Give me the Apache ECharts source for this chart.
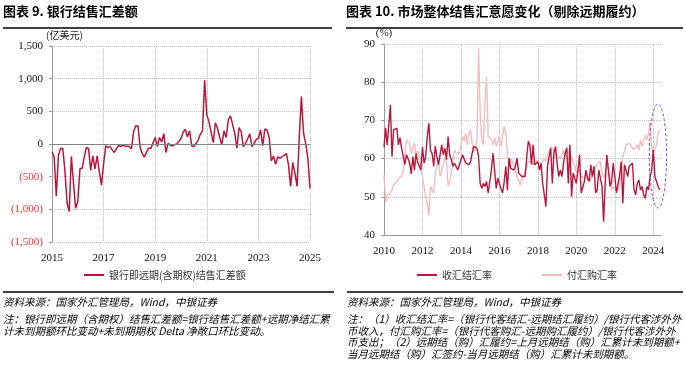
<!DOCTYPE html>
<html><head><meta charset="utf-8">
<script src="https://cdn.jsdelivr.net/npm/echarts@6/dist/echarts.min.js"></script>
<style>html,body{margin:0;padding:0;background:#fff}#c{width:686px;height:367px}</style>
</head><body><div id="c"></div>
<script>
// ---------- data ----------
const leftStartYear = 2015;          // monthly from 2015-01
const leftYearSpan = 10;
const leftSeriesName = '银行即远期(含期权)结售汇差额';
const leftNetFx = [
 -117,-200,-800,-170,-70,-66,-400,-900,-1035,-190,-600,-985,
 -880,-380,-372,-200,-50,-70,-400,-180,-380,-180,-420,-630,
 -300,-30,-50,-40,-90,-130,-70,-20,-40,-20,-30,-35,
 -40,-70,200,280,275,-50,-150,-200,-120,-60,-70,20,
 100,-40,100,30,160,-130,10,-15,-30,-10,0,40,
 85,180,225,110,200,-30,-40,10,60,150,200,980,
 450,340,180,20,325,240,100,-15,200,100,370,430,
 300,165,-65,250,190,-40,10,80,155,-40,10,70,
 85,215,-30,230,215,100,-260,-185,-310,-195,-220,-195,
 -170,-145,-320,-650,-280,-450,-650,100,725,165,10,-220,
 -680
];
const leftYTicks = [-1500,-1000,-500,0,500,1000,1500];

const rightStartYear = 2010;         // monthly from 2010-01
const rightYearSpan = 14.4;
const rightNames = ['收汇结汇率','付汇购汇率'];
const receiptSettleRate = [
 63,68,63.6,64,74,60.5,67.5,67,68,63.6,65.5,62.7,63,58.4,61,60,58.8,56,60.5,57,61.4,59,58,57,
 63,58.8,60.5,65.8,69.3,62,61.4,58,63.3,60.5,58.4,58,63.6,61,62.7,59.7,65.8,61,59.7,58,58.8,58.5,
 57,58.4,59.7,61,60.5,58.8,58.4,58.4,59.2,61.4,63.2,63.6,62.7,60.5,53.5,52.2,53.5,52.7,54,51,
 54,57,61.4,57,52.2,54.9,53.5,52.2,51,54,58,51.7,60.1,57.5,
 58,57,58,60.1,56.2,55.7,55.3,55.3,55.3,60.1,64.5,63.6,58.4,63.6,58.4,58.8,59.2,57,58.8,53.5,
 54,47.4,58,60.5,62.7,53.5,61.4,63.2,58.8,55.3,57,55.3,58.8,61.4,62.7,53.5,63.6,50,56.2,54.9,
 53.5,57,61,51,52.5,54,57,54.9,54,58.4,55.3,58,51,51.8,57,56.6,52.7,43.5,53.5,61,57,52.7,54,
 58.8,55.3,51,51,55.7,59.2,48.3,58.4,58.8,55.3,58,58.5,58.8,51.8,50.5,53.5,54.4,51.8,52.7,50.5,
 49.6,52.7,51.8,55.3,57,62.3,55.3,55.7,52.7,51.8
];
const paymentPurchaseRate = [
 55.7,48.7,50.5,50,51,51.8,53.1,52.7,54,54.9,55.3,55.3,57,60.5,64.9,64.5,64,61.4,62.7,64,61,62,
 60.5,57,55.3,52.7,50,48.3,45.2,52.7,53.1,51,56.2,57.9,59.2,55.3,57,58.4,60.1,59.2,52.7,54,56.2,
 59.2,62.3,61.5,61,61.4,61,65.8,64.5,66.7,63.6,66.7,67.5,64,61.8,62.7,64.9,88.9,71.9,64.9,63.6,
 75,81.5,65.8,66.2,64.9,63.6,65.4,63.2,63.6,65.8,63.2,65.8,68.4,66.7,61.4,57,60.1,
 59.2,58.4,57,55.3,55.3,53.1,54.4,55.3,56.6,57.5,59.2,58.8,59.2,58.4,59.7,59.5,59.2,58,58.4,59.2,
 60.1,59.2,61,61.9,63.2,63.6,61.9,62.3,60.5,61,60.1,61,62.3,60.1,63.2,61.4,61,60.5,58.8,58,56.6,
 56.2,57,55.3,55,54.9,56.2,54.4,54.9,54.4,55.7,56.6,57,58.8,58.4,59.2,56.2,54.9,56.2,58.8,57,54.9,
 51.8,52.7,51.8,52.2,51.8,52.7,57,60.5,61.9,63.6,63.2,64,63.5,62.7,63.2,62.7,63.6,62.3,64.9,63.2,
 63.6,66.2,64.9,66.7,69.7,63.2,61.4,61.9,63.6,66.7,67.5
];
const rightYTicks = [40,50,60,70,80,90];
// annotation ellipse (data units: years since 2010, percent)
const ellipseCenter = [14.24, 60.7];
const ellipseHalf = [0.45, 13.6];

// ---------- chart ----------
const serif = '"Liberation Serif","Times New Roman",serif';
const cjk = '"Noto Sans CJK SC",sans-serif';
const DARK = '#b8173d', LIGHT = '#f3b9b9';
const fmt = v => Math.abs(v).toString().replace(/\B(?=(\d{3})+(?!\d))/g, ',');
const toPts = (arr) => arr.map((v, i) => [i / 12, v]);

const chart = echarts.init(document.getElementById('c'), null, {renderer: 'canvas'});
const gridLine = {show: true, lineStyle: {type: 'dotted', color: '#c4c4c4', width: 1}};

const option = {
  animation: false,
  grid: [
    {left: 52, top: 46, width: 258, height: 196},
    {left: 384, top: 44, width: 277, height: 191}
  ],
  xAxis: [
    {type: 'value', gridIndex: 0, min: 0, max: leftYearSpan, interval: 2,
     axisLine: {show: false}, axisTick: {show: false},
     axisLabel: {formatter: v => String(leftStartYear + v), fontFamily: serif, fontSize: 11, color: '#111', margin: 11},
     splitLine: Object.assign({showMinLine: false}, gridLine)},
    {type: 'value', gridIndex: 1, min: 0, max: rightYearSpan, interval: 2,
     axisLine: {show: true, onZero: false, lineStyle: {color: '#9a9a9a'}}, axisTick: {show: false},
     axisLabel: {formatter: v => Number.isInteger(v) ? String(rightStartYear + v) : '', showMaxLabel: false,
       fontFamily: serif, fontSize: 11, color: '#111', margin: 11},
     splitLine: Object.assign({showMinLine: false, showMaxLine: false}, gridLine)}
  ],
  yAxis: [
    {type: 'value', gridIndex: 0, min: leftYTicks[0], max: leftYTicks[leftYTicks.length - 1], interval: 500,
     name: '(亿美元)', nameGap: 5, nameTextStyle: {fontFamily: cjk, fontSize: 10, color: '#222', align: 'left', padding: [0, 0, 0, -6]},
     axisLine: {show: true, lineStyle: {color: '#9a9a9a'}},
     axisTick: {show: true, length: 3, lineStyle: {color: '#9a9a9a'}},
     axisLabel: {fontFamily: serif, fontSize: 11, margin: 9,
       formatter: v => v < 0 ? '(' + fmt(v) + ')' : fmt(v),
       color: v => (Number(v) < 0 ? '#e8322e' : '#111')},
     splitLine: gridLine},
    {type: 'value', gridIndex: 1, min: rightYTicks[0], max: rightYTicks[rightYTicks.length - 1], interval: 10,
     name: '(%)', nameGap: 4, nameTextStyle: {fontFamily: serif, fontSize: 11, color: '#222'},
     axisLine: {show: true, lineStyle: {color: '#9a9a9a'}},
     axisTick: {show: true, length: 3, lineStyle: {color: '#9a9a9a'}},
     axisLabel: {fontFamily: serif, fontSize: 11, color: '#111', margin: 9},
     splitLine: Object.assign({showMinLine: false}, gridLine)}
  ],
  legend: [
    {data: [leftSeriesName], left: 84, top: 270, padding: 0, icon: 'rect', itemWidth: 20, itemHeight: 2,
     textStyle: {fontFamily: cjk, fontSize: 10, color: '#333'}},
    {data: rightNames, left: 417, top: 270, padding: 0, icon: 'rect', itemWidth: 20, itemHeight: 2, itemGap: 50,
     textStyle: {fontFamily: cjk, fontSize: 10, color: '#333'}}
  ],
  series: [
    {name: leftSeriesName, type: 'line', xAxisIndex: 0, yAxisIndex: 0, data: toPts(leftNetFx),
     showSymbol: false, symbol: 'none', lineStyle: {color: DARK, width: 1.5}, itemStyle: {color: DARK},
     markLine: {silent: true, symbol: ['none', 'none'], label: {show: false},
       lineStyle: {color: '#808080', type: 'solid', width: 1}, data: [{yAxis: 0}]}, z: 3},
    {name: rightNames[1], type: 'line', xAxisIndex: 1, yAxisIndex: 1, data: toPts(paymentPurchaseRate),
     showSymbol: false, symbol: 'none', lineStyle: {color: LIGHT, width: 1.3}, itemStyle: {color: LIGHT}, z: 2},
    {name: rightNames[0], type: 'line', xAxisIndex: 1, yAxisIndex: 1, data: toPts(receiptSettleRate),
     showSymbol: false, symbol: 'none', lineStyle: {color: DARK, width: 1.4}, itemStyle: {color: DARK}, z: 3}
  ]
};
chart.setOption(option);

// titles, rules, footnotes, annotation ellipse
const c = chart.convertToPixel({gridIndex: 1}, ellipseCenter);
const e = chart.convertToPixel({gridIndex: 1}, [ellipseCenter[0] + ellipseHalf[0], ellipseCenter[1] + ellipseHalf[1]]);
const txt = (x, y, text, font, extra) => ({type: 'text', silent: true,
  style: Object.assign({x, y, text, font, fill: '#000', textVerticalAlign: 'top'}, extra || {})});
const rule = (x1, x2, y) => ({type: 'line', silent: true, shape: {x1, y1: y, x2, y2: y}, style: {stroke: '#000', lineWidth: 1.3}});
const titleFont = 'bold 13px "Noto Sans CJK SC"';
const noteFont = 'italic 10.5px "Noto Sans CJK SC"';
chart.setOption({graphic: [
  txt(3, 5, '图表 9. 银行结售汇差额', titleFont),
  txt(346, 5, '图表 10. 市场整体结售汇意愿变化（剔除远期履约）', titleFont),
  rule(3, 332, 28), rule(346, 683, 28),
  rule(3, 334, 292), rule(347, 683, 292),
  txt(3, 297, '资料来源：国家外汇管理局，Wind，中银证券', noteFont),
  txt(3, 313, '注：银行即远期（含期权）结售汇差额=银行结售汇差额+远期净结汇累\n计未到期额环比变动+未到期期权 Delta 净敞口环比变动。', noteFont, {lineHeight: 12}),
  txt(347, 297, '资料来源：国家外汇管理局，Wind，中银证券', noteFont),
  txt(347, 313, '注：（1）收汇结汇率=（银行代客结汇-远期结汇履约）/银行代客涉外外\n币收入，付汇购汇率=（银行代客购汇-远期购汇履约）/银行代客涉外外\n币支出；（2）远期结（购）汇履约=上月远期结（购）汇累计未到期额+\n当月远期结（购）汇签约-当月远期结（购）汇累计未到期额。', noteFont, {lineHeight: 11.8}),
  {type: 'ellipse', silent: true, z: 10,
   shape: {cx: c[0], cy: c[1], rx: Math.abs(e[0] - c[0]), ry: Math.abs(e[1] - c[1])},
   style: {fill: 'none', stroke: '#7b4fd0', lineWidth: 1, lineDash: [3, 2]}}
]});
</script></body></html>
